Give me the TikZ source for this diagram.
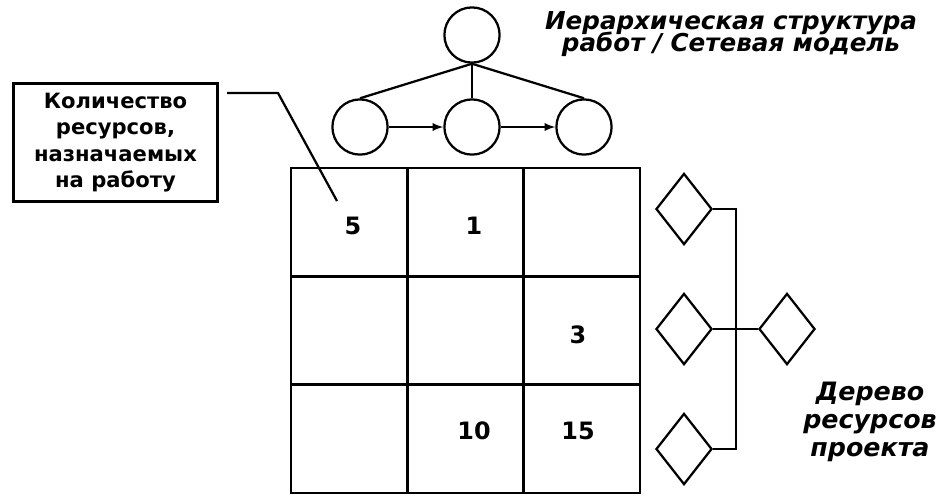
\documentclass[tikz,border=0pt]{standalone}
\usepackage{fontspec}
\setmainfont{DejaVu Sans}
\usetikzlibrary{shapes.geometric}

\newcommand\tightlines{\lineskiplimit=-20pt\relax}

\begin{document}
\begin{tikzpicture}[
x=0.025cm, y=-0.025cm,
line width=1.6pt,
task/.style={
draw,
circle,
minimum size=1.38cm,
inner sep=0
},
res/.style={
draw,
diamond,
minimum width=1.4cm,
minimum height=1.78cm,
inner sep=0
},
cell/.style={
draw,
minimum width=2.91cm,
minimum height=2.71cm,
inner sep=0
},
num/.style={
font=\fontsize{17}{20}\selectfont\bfseries
},
note/.style={
draw,
line width=2.2pt,
align=center,
minimum width=5.1cm,
minimum height=2.95cm,
font=\fontsize{15}{18.8}\selectfont\bfseries\tightlines
},
captext/.style={
align=center,
font=\fontsize{17.5}{15.8}\selectfont\bfseries\itshape\tightlines
},
pooltext/.style={
align=center,
font=\fontsize{18}{20}\selectfont\bfseries\itshape\tightlines
}
]

\useasboundingbox (0,0) rectangle (939,495);

\node[task] (top) at (472,35) {};

\node[task] (t1) at (360,127) {};

\node[task] (t2) at (472,127) {};

\node[task] (t3) at (584,127) {};

\draw (top.south) -- (t1.north);
\draw (top.south) -- (t2.north);
\draw (top.south) -- (t3.north);
\draw[-latex] (t1) -- (t2);
\draw[-latex] (t2) -- (t3);

\foreach \r in {0,1,2}
\foreach \c in {0,1,2}
\node[cell] (cell\r\c) at ({349.2+116.3*\c},{222.2+108.3*\r}) {};

\node[num] (n5) at (353,226) {5};

\node[num] (n1) at (474,226) {1};

\node[num] (n3) at (578,335) {3};

\node[num] (n10) at (474,431) {10};

\node[num] (n15) at (578,431) {15};

\node[note] (note) at (115.5,142.5)
{Количество\\ресурсов,\\назначаемых\\на работу};

\coordinate (lead) at (227,93);
\coordinate (bend) at (278,93);
\coordinate (tip) at (337,201);
\draw (lead) -- (bend) -- (tip);

\node[res] (r1) at (684,209) {};

\node[res] (r2) at (684,329) {};

\node[res] (r3) at (684,449) {};

\node[res] (r4) at (787,329) {};

\coordinate (bus) at (736,329);
\draw (r1.east) -| (bus) |- (r3.east);
\draw (r2.east) -- (r4.west);

\node[captext] (wbs) at (731,34)
{Иерархическая структура\\работ / Сетевая модель};

\node[pooltext] (pool) at (870,422)
{Дерево\\ресурсов\\проекта};

\end{tikzpicture}
\end{document}
